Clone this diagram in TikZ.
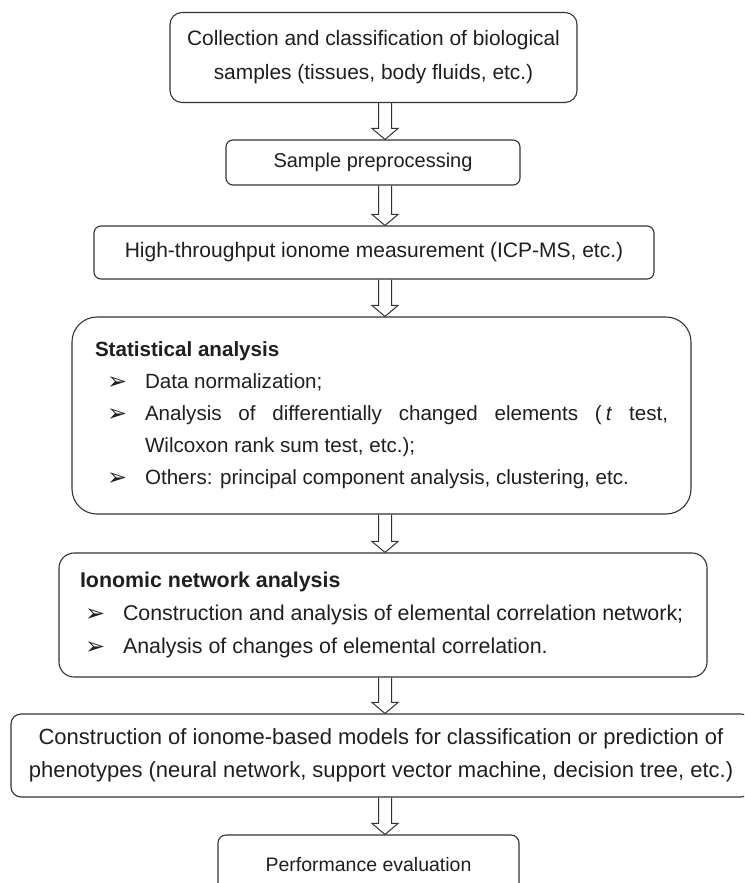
\documentclass[tikz,border=0pt]{standalone}
\usepackage{fontspec}
\setmainfont{Liberation Sans}
\newfontfamily\symfont{DejaVu Sans}
\usetikzlibrary{calc}
\newcommand{\bitem}[3]{\par\noindent\hangindent=#2\hangafter=1\makebox[#2][l]{\hspace{#1}\raisebox{-1pt}{\symfont\fontsize{24}{24}\selectfont ➢}}#3}
\newcommand{\hollowarrow}[2]{%
  \draw[hollow] let \p1=(#1.south), \p2=(#2.north) in
    (378.5pt,\y1) -- (378.5pt,\y2+11pt) -- (372pt,\y2+11pt) -- (385pt,\y2)
    -- (398pt,\y2+11pt) -- (391.5pt,\y2+11pt) -- (391.5pt,\y1);}
\begin{document}
\begin{tikzpicture}[x=1pt,y=-1pt,
  box/.style={draw=black!80, line width=1.1pt, align=center, inner sep=0pt,
    font=\fontsize{21}{34}\selectfont, text=black!88},
  listbox/.style={box, align=justify, font=\fontsize{20.6}{32}\selectfont},
  hollow/.style={draw=black!80, line width=1pt}]
\useasboundingbox (0,0) rectangle (744,883);
\clip (0,0) rectangle (744,883);

\node[box, rounded corners=12pt, minimum width=407pt, minimum height=90pt, font=\fontsize{20.9}{34}\selectfont] (b1) at (373.5,57.5)
  {Collection and classification of biological\\samples (tissues, body fluids, etc.)};
\node[box, rounded corners=7pt, minimum width=294pt, minimum height=45pt, font=\fontsize{20}{34}\selectfont] (b2) at (373,162.5)
  {Sample preprocessing};
\node[box, rounded corners=7pt, minimum width=560pt, minimum height=53pt] (b3) at (374,252.5)
  {High-throughput ionome measurement (ICP-MS, etc.)};
\node[listbox, rounded corners=25pt, text width=573pt, inner xsep=23pt, minimum height=197pt] (b4) at (381.5,415.5)
  {{\bfseries Statistical analysis}
   \bitem{12pt}{50pt}{Data normalization;}
   \bitem{12pt}{50pt}{Analysis of differentially changed elements (\hspace{4pt}\textit{t} test,\linebreak Wilcoxon rank sum test, etc.);}
   \bitem{12pt}{50pt}{Others: principal component analysis, clustering, etc.}};
\node[listbox, rounded corners=15pt, text width=606pt, inner xsep=21pt, minimum height=124pt, font=\fontsize{21.4}{33}\selectfont] (b5) at (383,615)
  {{\bfseries Ionomic network analysis}
   \bitem{5pt}{43pt}{Construction and analysis of elemental correlation network;}
   \bitem{5pt}{43pt}{Analysis of changes of elemental correlation.}};
\node[box, rounded corners=10pt, minimum width=740pt, minimum height=83pt, font=\fontsize{22}{33}\selectfont] (b6) at (381,755.5)
  {\raisebox{-3pt}{\parbox{740pt}{\centering Construction of ionome-based models for classification or prediction of\\phenotypes (neural network, support vector machine, decision tree, etc.)}}};
\node[box, rounded corners=8pt, minimum width=301pt, minimum height=60pt, font=\fontsize{19.5}{33}\selectfont] (b7) at (368.5,865)
  {Performance evaluation};

\hollowarrow{b1}{b2}
\hollowarrow{b2}{b3}
\hollowarrow{b3}{b4}
\hollowarrow{b4}{b5}
\hollowarrow{b5}{b6}
\hollowarrow{b6}{b7}
\end{tikzpicture}
\end{document}
